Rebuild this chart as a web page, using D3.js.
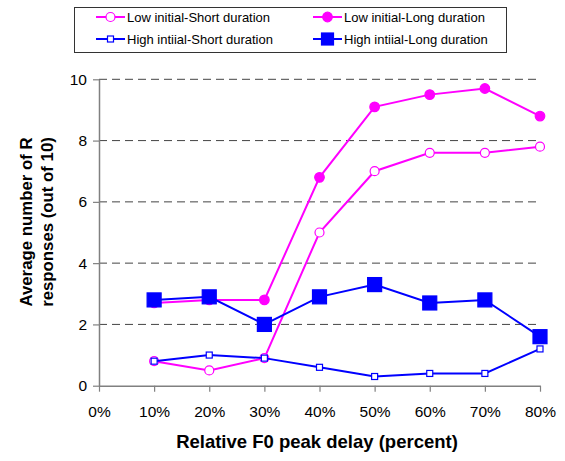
<!DOCTYPE html>
<html>
<head>
<meta charset="utf-8">
<script src="https://cdnjs.cloudflare.com/ajax/libs/d3/7.8.5/d3.min.js"></script>
<style>
  body { margin: 0; background: #fff; }
  svg text { font-family: "Liberation Sans", Arial, sans-serif; }
</style>
</head>
<body>
<div id="chart"></div>
<script>
// data
var delays = [10, 20, 30, 40, 50, 60, 70, 80];
var xTicks = [0, 10, 20, 30, 40, 50, 60, 70, 80];
var yTicks = [0, 2, 4, 6, 8, 10];

var lowShort  = [0.8, 0.5, 0.9, 5.0, 7.0, 7.6, 7.6, 7.8];
var lowLong   = [2.7, 2.8, 2.8, 6.8, 9.1, 9.5, 9.7, 8.8];
var highShort = [0.8, 1.0, 0.9, 0.6, 0.3, 0.4, 0.4, 1.2];
var highLong  = [2.8, 2.9, 2.0, 2.9, 3.3, 2.7, 2.8, 1.6];

var series = [
  { name: 'Low initial-Short duration',  values: lowShort,  color: '#ff00ff', marker: 'circle', fill: '#fff', size: 4.5 },
  { name: 'High intiial-Short duration', values: highShort, color: '#0000ff', marker: 'square', fill: '#fff', size: 6 },
  { name: 'Low initial-Long duration',   values: lowLong,   color: '#ff00ff', marker: 'circle', fill: '#ff00ff', size: 4.8 },
  { name: 'High intiial-Long duration',  values: highLong,  color: '#0000ff', marker: 'square', fill: '#0000ff', size: 14 }
];

var width = 565, height = 461;

var svg = d3.select('#chart').append('svg')
  .attr('width', width)
  .attr('height', height);

var x = d3.scaleLinear().domain([0, 80]).range([99, 540]);
var y = d3.scaleLinear().domain([0, 10]).range([385.7, 79.3]);

// grid lines
svg.append('g')
  .selectAll('line')
  .data(yTicks.filter(d => d > 0))
  .enter().append('line')
    .attr('x1', x(0)).attr('x2', x(80))
    .attr('y1', d => y(d)).attr('y2', d => y(d))
    .attr('stroke', '#444')
    .attr('stroke-width', 1)
    .attr('stroke-dasharray', '8,5');

// axes
var xAxis = svg.append('g')
  .attr('transform', 'translate(0,' + y(0) + ')')
  .call(d3.axisBottom(x).tickValues(xTicks).tickFormat(d => d + '%').tickSize(6).tickSizeOuter(0).tickPadding(14));

var yAxis = svg.append('g')
  .attr('transform', 'translate(' + x(0) + ',0)')
  .call(d3.axisLeft(y).tickValues(yTicks).tickSize(6).tickSizeOuter(0).tickPadding(6));

[xAxis, yAxis].forEach(function (a) {
  a.select('.domain').attr('stroke', '#808080').attr('stroke-width', 1.5);
  a.selectAll('.tick line').attr('stroke', '#808080').attr('stroke-width', 1.2);
  a.selectAll('.tick text').attr('fill', '#000').style('font-size', '15.5px');
});

// lines and markers
var line = d3.line()
  .x((d, i) => x(delays[i]))
  .y(d => y(d));

function drawMarker(g, s, cx, cy) {
  if (s.marker === 'circle') {
    g.append('circle')
      .attr('cx', cx).attr('cy', cy).attr('r', s.size)
      .attr('fill', s.fill).attr('stroke', s.color).attr('stroke-width', 1.2);
  } else {
    g.append('rect')
      .attr('x', cx - s.size / 2).attr('y', cy - s.size / 2)
      .attr('width', s.size).attr('height', s.size)
      .attr('fill', s.fill).attr('stroke', s.color).attr('stroke-width', 1.2);
  }
}

var order = [series[0], series[2], series[1], series[3]];
order.forEach(function (s) {
  var g = svg.append('g');
  g.append('path')
    .datum(s.values)
    .attr('d', line)
    .attr('fill', 'none')
    .attr('stroke', s.color)
    .attr('stroke-width', 2);
  s.values.forEach(function (v, i) {
    drawMarker(g, s, x(delays[i]), y(v));
  });
});

// axis titles
svg.append('text')
  .attr('x', 317).attr('y', 448)
  .attr('text-anchor', 'middle')
  .style('font-size', '18.5px').style('font-weight', 'bold')
  .text('Relative F0 peak delay (percent)');

var yt = svg.append('text')
  .attr('transform', 'translate(32,' + 222 + ') rotate(-90)')
  .attr('text-anchor', 'middle')
  .style('font-size', '16.8px').style('font-weight', 'bold');
yt.append('tspan').attr('x', 0).attr('dy', 0).text('Average number of R');
yt.append('tspan').attr('x', 0).attr('dy', 21).text('responses (out of 10)');

// legend
var legend = svg.append('g');
legend.append('rect')
  .attr('x', 74.5).attr('y', 7.5).attr('width', 432).attr('height', 45)
  .attr('fill', '#fff').attr('stroke', '#333').attr('stroke-width', 1);

var legendPos = [
  { lx: 96, ty: 17 }, { lx: 96, ty: 39 },
  { lx: 313, ty: 17 }, { lx: 313, ty: 39 }
];

series.forEach(function (s, i) {
  var p = legendPos[i];
  var g = legend.append('g');
  g.append('line')
    .attr('x1', p.lx).attr('x2', p.lx + 29)
    .attr('y1', p.ty).attr('y2', p.ty)
    .attr('stroke', s.color).attr('stroke-width', 2);
  var ls = Object.assign({}, s, { size: s.marker === 'square' && s.size > 10 ? 12 : s.size });
  drawMarker(g, ls, p.lx + 14.5, p.ty);
  g.append('text')
    .attr('x', p.lx + 31).attr('y', p.ty + 4.5)
    .style('font-size', '13px')
    .text(s.name);
});
</script>
</body>
</html>
